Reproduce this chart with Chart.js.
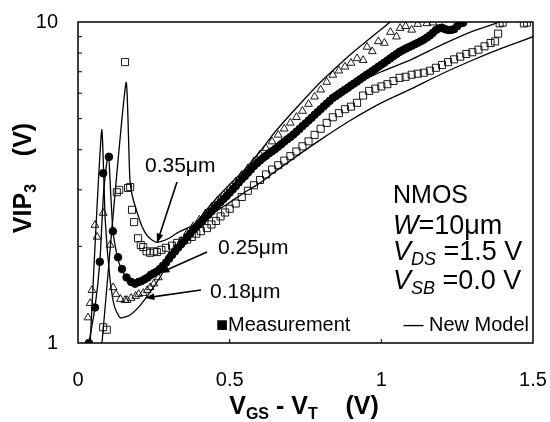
<!DOCTYPE html>
<html>
<head>
<meta charset="utf-8">
<script src="https://cdn.jsdelivr.net/npm/chart.js@4.4.0/dist/chart.umd.min.js"></script>
<style>
  html, body { margin: 0; padding: 0; background: #fff; }
  #wrap { width: 550px; height: 422px; }
</style>
</head>
<body>
<div id="wrap"><canvas id="chart" width="550" height="422"></canvas></div>
<script>
// measured VIP3 (V) vs VGS - VT (V)
const sq35X = [0.083, 0.095, 0.128, 0.136, 0.155, 0.165, 0.172, 0.178, 0.185, 0.198, 0.207, 0.215, 0.226, 0.238, 0.25, 0.26, 0.275, 0.29, 0.31, 0.327, 0.345, 0.36, 0.375, 0.39, 0.405, 0.425, 0.44, 0.455, 0.47, 0.485, 0.5, 0.52, 0.54, 0.56, 0.58, 0.6, 0.62, 0.64, 0.66, 0.68, 0.7, 0.72, 0.74, 0.76, 0.78, 0.8, 0.82, 0.84, 0.86, 0.88, 0.9, 0.92, 0.94, 0.96, 0.98, 1.0, 1.02, 1.04, 1.06, 1.08, 1.1, 1.12, 1.14, 1.16, 1.18, 1.2, 1.22, 1.24, 1.26, 1.28, 1.3, 1.32, 1.34, 1.36, 1.375, 1.385, 1.39, 1.4, 1.47, 1.48];
const sq35Y = [1.12, 1.10, 2.95, 3.0, 7.5, 3.04, 3.06, 2.6, 2.38, 2.12, 2.02, 1.99, 1.93, 1.91, 1.93, 1.92, 1.95, 1.98, 2.01, 2.05, 2.08, 2.1, 2.14, 2.19, 2.23, 2.28, 2.34, 2.4, 2.48, 2.55, 2.62, 2.72, 2.85, 2.98, 3.1, 3.22, 3.35, 3.47, 3.58, 3.7, 3.82, 3.95, 4.1, 4.25, 4.45, 4.65, 4.85, 5.05, 5.2, 5.35, 5.45, 5.6, 5.9, 6.1, 6.2, 6.3, 6.4, 6.55, 6.7, 6.75, 6.85, 6.9, 6.95, 7.05, 7.2, 7.35, 7.5, 7.65, 7.8, 7.95, 8.05, 8.2, 8.4, 8.6, 8.7, 9.2, 9.9, 9.95, 9.9, 9.95];

const dot25X = [0.036, 0.056, 0.072, 0.083, 0.102, 0.115, 0.132, 0.145, 0.16, 0.175, 0.188,
  0.2, 0.21, 0.22, 0.23, 0.24, 0.25, 0.26, 0.27, 0.28, 0.29, 0.3, 0.31, 0.32, 0.33, 0.34, 0.35, 0.36, 0.37, 0.38, 0.39,
  0.4, 0.41, 0.42, 0.43, 0.44, 0.45, 0.46, 0.47, 0.48, 0.49, 0.5, 0.51, 0.52, 0.53, 0.54, 0.55, 0.56, 0.57, 0.58, 0.59,
  0.6, 0.61, 0.62, 0.63, 0.64, 0.65, 0.66, 0.67, 0.68, 0.69, 0.7, 0.71, 0.72, 0.73, 0.74, 0.75, 0.76, 0.77, 0.78, 0.79,
  0.8, 0.81, 0.82, 0.83, 0.84, 0.85, 0.86, 0.87, 0.88, 0.89, 0.9, 0.91, 0.92, 0.93, 0.94, 0.95, 0.96, 0.97, 0.98, 0.99,
  1.0, 1.01, 1.02, 1.03, 1.04, 1.05, 1.06, 1.07, 1.08, 1.09, 1.1, 1.11, 1.12, 1.13, 1.14, 1.15, 1.16, 1.17, 1.18, 1.19,
  1.2, 1.21, 1.22, 1.23, 1.24, 1.25, 1.26, 1.27];
const dot25Y = [1.0, 1.29, 1.79, 3.38, 3.8, 2.23, 1.85, 1.70, 1.6, 1.55, 1.53,
  1.55, 1.56, 1.58, 1.6, 1.63, 1.65, 1.67, 1.7, 1.74, 1.78, 1.83, 1.88, 1.93, 1.98, 2.03, 2.08, 2.14, 2.19, 2.25, 2.3,
  2.35, 2.4, 2.46, 2.51, 2.57, 2.63, 2.69, 2.75, 2.81, 2.87, 2.94, 3.01, 3.08, 3.16, 3.24, 3.31, 3.39, 3.47, 3.56, 3.63,
  3.7, 3.77, 3.83, 3.9, 3.96, 4.02, 4.09, 4.16, 4.24, 4.31, 4.38, 4.46, 4.55, 4.64, 4.74, 4.83, 4.93, 5.03, 5.14, 5.24,
  5.35, 5.46, 5.57, 5.68, 5.8, 5.88, 5.97, 6.06, 6.15, 6.24, 6.34, 6.43, 6.53, 6.63, 6.73, 6.83, 6.93, 7.03, 7.14, 7.25,
  7.36, 7.47, 7.59, 7.71, 7.83, 7.95, 8.07, 8.16, 8.26, 8.34, 8.43, 8.52, 8.61, 8.71, 8.81, 8.94, 9.08, 9.25, 9.44, 9.55,
  9.6, 9.5, 9.44, 9.45, 9.5, 9.7, 9.9, 9.95];

const tri18X = [0.033, 0.04, 0.046, 0.056, 0.063, 0.083, 0.106, 0.116, 0.125, 0.14, 0.155, 0.162, 0.175, 0.19, 0.2, 0.215, 0.228, 0.238, 0.25, 0.265, 0.28, 0.3, 0.32, 0.34, 0.36, 0.38, 0.4, 0.42, 0.44, 0.46, 0.48, 0.5, 0.52, 0.54, 0.56, 0.58, 0.6, 0.62, 0.64, 0.66, 0.68, 0.7, 0.72, 0.74, 0.76, 0.78, 0.8, 0.82, 0.84, 0.86, 0.88, 0.9, 0.92, 0.94, 0.953, 0.97, 0.99, 1.01, 1.03, 1.05, 1.062, 1.08, 1.1, 1.12, 1.15, 1.17];
const tri18Y = [1.2, 1.33, 1.46, 2.33, 2.14, 2.54, 2.02, 1.49, 1.42, 1.37, 1.36, 1.36, 1.38, 1.4, 1.42, 1.43, 1.46, 1.49, 1.53, 1.6, 1.72, 1.86, 1.97, 2.08, 2.2, 2.31, 2.42, 2.53, 2.65, 2.78, 2.9, 3.03, 3.18, 3.34, 3.5, 3.68, 3.86, 4.04, 4.24, 4.45, 4.65, 4.85, 5.05, 5.28, 5.55, 5.85, 6.15, 6.5, 6.84, 7.05, 7.25, 7.45, 7.7, 7.6, 8.36, 8.1, 8.7, 8.6, 9.3, 9.0, 9.57, 9.7, 9.45, 9.85, 9.9, 9.95];

// new model curves
const mod35X = [0.079, 0.158, 0.171, 0.18, 0.195, 0.21, 0.228, 0.245, 0.26, 0.28, 0.3, 0.326, 0.36, 0.392, 0.44, 0.49, 0.55, 0.6, 0.65, 0.7, 0.8, 0.9, 1.0, 1.1, 1.2, 1.3, 1.4, 1.5];
const mod35Y = [1.0, 6.45, 3.25, 2.85, 2.55, 2.32, 2.16, 2.09, 2.06, 2.08, 2.12, 2.2, 2.28, 2.37, 2.52, 2.7, 2.95, 3.15, 3.42, 3.7, 4.3, 4.95, 5.6, 6.2, 6.9, 7.6, 8.3, 9.0];

const mod25X = [0.036, 0.056, 0.072, 0.085, 0.1, 0.108, 0.115, 0.125, 0.135, 0.15, 0.17, 0.19, 0.21, 0.23, 0.25, 0.3, 0.35, 0.4, 0.45, 0.5, 0.6, 0.7, 0.8, 0.9, 1.0, 1.1, 1.2, 1.3, 1.39];
const mod25Y = [1.0, 1.29, 1.79, 3.0, 3.9, 2.9, 2.25, 1.95, 1.78, 1.65, 1.56, 1.53, 1.54, 1.57, 1.62, 1.83, 2.08, 2.35, 2.63, 2.94, 3.68, 4.4, 5.3, 6.3, 7.0, 7.65, 8.5, 9.35, 10.0];

const mod18X = [0.04, 0.078, 0.09, 0.105, 0.12, 0.139, 0.17, 0.205, 0.24, 0.27, 0.3, 0.35, 0.4, 0.45, 0.5, 0.55, 0.6, 0.65, 0.7, 0.75, 0.8, 0.85, 0.9, 0.95, 1.0, 1.04];
const mod18Y = [1.0, 4.6, 2.4, 1.6, 1.3, 1.2, 1.22, 1.31, 1.45, 1.6, 1.8, 2.1, 2.44, 2.78, 3.12, 3.47, 3.95, 4.55, 5.15, 5.8, 6.5, 7.2, 7.95, 8.7, 9.5, 10.2];

const xTicks = [0, 0.5, 1, 1.5];
const yLabels = [1, 10];
const yMinor = [2, 3, 4, 5, 6, 7, 8, 9];
const xMinor = [0.5, 1];

const FONT = '"Liberation Sans", Arial, sans-serif';
const pts = (xs, ys) => xs.map((x, i) => ({ x: x, y: ys[i] }));

function rich(ctx, x, y, parts, align) {
  let w = 0;
  parts.forEach(p => { ctx.font = p[1]; w += ctx.measureText(p[0]).width; });
  let cx = align === 'center' ? x - w / 2 : align === 'right' ? x - w : x;
  parts.forEach(p => {
    ctx.font = p[1];
    ctx.fillText(p[0], cx, y + (p[2] || 0));
    cx += ctx.measureText(p[0]).width;
  });
}

function arrow(ctx, x1, y1, x2, y2) {
  const a = Math.atan2(y2 - y1, x2 - x1);
  ctx.beginPath();
  ctx.moveTo(x1, y1);
  ctx.lineTo(x2 - 6 * Math.cos(a), y2 - 6 * Math.sin(a));
  ctx.stroke();
  ctx.beginPath();
  ctx.moveTo(x2, y2);
  ctx.lineTo(x2 - 10 * Math.cos(a - 0.35), y2 - 10 * Math.sin(a - 0.35));
  ctx.lineTo(x2 - 10 * Math.cos(a + 0.35), y2 - 10 * Math.sin(a + 0.35));
  ctx.closePath();
  ctx.fill();
}

const decor = {
  id: 'decor',
  afterDraw(chart) {
    const { ctx, chartArea: a, scales: { x, y } } = chart;
    ctx.save();
    ctx.strokeStyle = '#000';
    ctx.fillStyle = '#000';
    ctx.lineWidth = 1.5;
    ctx.strokeRect(a.left, a.top, a.right - a.left, a.bottom - a.top);

    // inner minor ticks
    ctx.lineWidth = 1;
    ctx.beginPath();
    yMinor.forEach(v => {
      const p = y.getPixelForValue(v);
      ctx.moveTo(a.left, p); ctx.lineTo(a.left + 4, p);
    });
    xMinor.forEach(v => {
      const p = x.getPixelForValue(v);
      ctx.moveTo(p, a.bottom); ctx.lineTo(p, a.bottom - 4);
    });
    ctx.stroke();

    ctx.textBaseline = 'alphabetic';
    // axis titles
    rich(ctx, 304, 414, [
      ['V', 'bold 25px ' + FONT], ['GS', 'bold 16px ' + FONT, 5],
      [' - V', 'bold 25px ' + FONT], ['T', 'bold 16px ' + FONT, 5],
      ['    (V)', 'bold 25px ' + FONT]
    ], 'center');
    ctx.save();
    ctx.translate(22, 178);
    ctx.rotate(-Math.PI / 2);
    rich(ctx, 0, 9, [
      ['VIP', 'bold 25px ' + FONT], ['3', 'bold 16px ' + FONT, 5],
      ['    (V)', 'bold 25px ' + FONT]
    ], 'center');
    ctx.restore();

    // gate length labels
    ctx.lineWidth = 1.6;
    rich(ctx, 145, 172, [['0.35\u03bcm', '21px ' + FONT]], 'left');
    arrow(ctx, 177, 182, 157, 243);
    rich(ctx, 218, 254, [['0.25\u03bcm', '21px ' + FONT]], 'left');
    arrow(ctx, 207, 252, 160, 273);
    rich(ctx, 210, 298, [['0.18\u03bcm', '21px ' + FONT]], 'left');
    arrow(ctx, 201, 290, 145, 298);

    // device conditions
    rich(ctx, 393, 203, [['NMOS', '25px ' + FONT]], 'left');
    rich(ctx, 393, 234, [['W', 'italic 27px ' + FONT], ['=10\u03bcm', '27px ' + FONT]], 'left');
    rich(ctx, 393, 260, [['V', 'italic 27px ' + FONT], ['DS', 'italic 18px ' + FONT, 5], [' =1.5 V', '27px ' + FONT]], 'left');
    rich(ctx, 393, 289, [['V', 'italic 27px ' + FONT], ['SB', 'italic 18px ' + FONT, 5], [' =0.0 V', '27px ' + FONT]], 'left');

    // legend
    rich(ctx, 216, 331, [['\u25a0Measurement', '20px ' + FONT]], 'left');
    rich(ctx, 529, 331, [['\u2014 New Model', '20px ' + FONT]], 'right');
    ctx.restore();
  }
};

const meas = (xs, ys, style, r, fill) => ({
  type: 'scatter',
  data: pts(xs, ys),
  pointStyle: style,
  pointRadius: r,
  pointBorderWidth: 0.9,
  pointBorderColor: '#000',
  pointBackgroundColor: fill,
  showLine: false
});
const model = (xs, ys) => ({
  type: 'line',
  data: pts(xs, ys),
  borderColor: '#000',
  borderWidth: 1.3,
  pointRadius: 0,
  tension: 0.2,
  fill: false
});

new Chart(document.getElementById('chart'), {
  type: 'scatter',
  data: {
    datasets: [
      meas(sq35X, sq35Y, 'rect', 5, 'rgba(0,0,0,0)'),
      meas(tri18X, tri18Y, 'triangle', 4.5, 'rgba(0,0,0,0)'),
      meas(dot25X, dot25Y, 'circle', 3.8, '#000'),
      model(mod35X, mod35Y),
      model(mod25X, mod25Y),
      model(mod18X, mod18Y)
    ]
  },
  options: {
    responsive: false,
    devicePixelRatio: 1,
    animation: false,
    layout: { padding: { top: 22, right: 17, left: 0, bottom: 0 } },
    plugins: { legend: { display: false }, tooltip: { enabled: false } },
    scales: {
      x: {
        type: 'linear', min: 0, max: 1.5,
        afterFit: s => { s.height = 79; s.paddingLeft = 0; s.paddingRight = 0; },
        afterBuildTicks: s => { s.ticks = xTicks.map(v => ({ value: v })); },
        grid: { display: false, drawTicks: false },
        border: { display: false },
        ticks: { color: '#000', font: { size: 20, family: FONT }, padding: 25, maxRotation: 0, callback: v => String(v) }
      },
      y: {
        type: 'logarithmic', min: 1, max: 10,
        afterFit: s => { s.width = 78; s.paddingTop = 0; s.paddingBottom = 0; },
        afterBuildTicks: s => { s.ticks = yLabels.map(v => ({ value: v })); },
        grid: { display: false, drawTicks: false },
        border: { display: false },
        ticks: { color: '#000', font: { size: 20, family: FONT }, padding: 20, callback: v => String(v) }
      }
    }
  },
  plugins: [decor]
});
</script>
</body>
</html>
